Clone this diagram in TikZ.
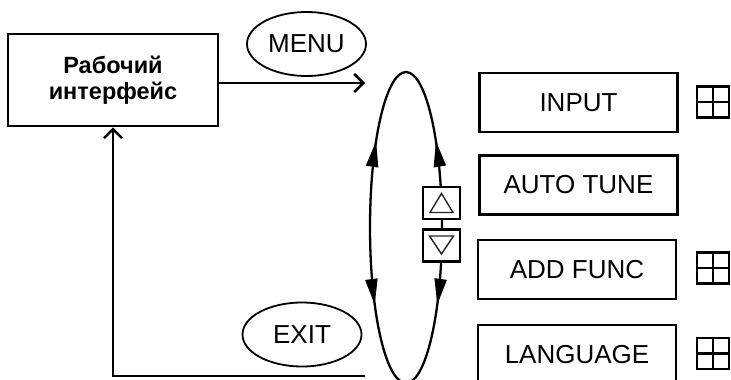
\documentclass[tikz,border=0pt]{standalone}
\usepackage{fontspec}
\setmainfont{Liberation Sans}
\usetikzlibrary{arrows.meta,decorations.markings,shapes.geometric,calc}
\tikzset{
  menubox/.style={draw,line width=2.5pt,minimum width=198pt,minimum height=59pt,inner sep=0pt,font=\fontsize{26}{30}\selectfont},
  oval/.style={draw,line width=1.8pt,ellipse,minimum width=119pt,minimum height=64pt,inner sep=0pt,font=\fontsize{26}{30}\selectfont},
  workbox/.style={draw,line width=2.5pt,minimum width=210pt,minimum height=92pt,inner sep=0pt,align=center,font=\bfseries\fontsize{23.5}{26}\selectfont},
  openarrow/.style={line width=2.5pt,-{Straight Barb[length=9pt,width=18pt,line width=2.5pt]}},
  keybox/.style={draw,fill=white,line width=2.5pt,minimum width=37pt,minimum height=32pt,inner sep=0pt},
  tri/.style={draw=black!85,line width=1.4pt,line join=miter},
  icon/.style={draw,line width=2.8pt,minimum width=32pt,minimum height=31pt,inner sep=0pt,
    path picture={\draw[line width=2.8pt] (path picture bounding box.north) -- (path picture bounding box.south)
      (path picture bounding box.west) -- (path picture bounding box.east);}},
  looparrow/.tip={Triangle[length=26pt,width=12pt]}
}
\begin{document}
\begin{tikzpicture}[x=1pt,y=-1pt]
\useasboundingbox (0,0) rectangle (731,380);
\clip (0,0) rectangle (731,380);

% working interface
\node[workbox] (work) at (113,80) {Рабочий\\интерфейс};
\node[oval] (menu) at (306.5,44) {MENU};
\node[oval] (exit) at (302,334.5) {EXIT};
\coordinate (menuend) at (365,83);
\coordinate (exitend) at (365,376);
\draw[openarrow] (work.east |- menuend) -- (menuend);
\draw[openarrow] (exitend) -| (work.south);

% selection loop
\coordinate (lc) at (406,227.5);
\draw[line width=2.3pt,postaction={decorate},decoration={markings,
   mark=at position 77.5pt with {\arrow{looparrow}},
   mark=at position 253.3pt with {\arrowreversed{looparrow}},
   mark=at position 417.8pt with {\arrow{looparrow}},
   mark=at position -87pt with {\arrowreversed{looparrow}}}]
   (lc) ellipse [x radius=36, y radius=155.5];

\node[keybox] (up) at (441.5,203) {};
\node[keybox] (down) at (441.5,245.5) {};
\draw[tri] ($(up.center)+(0,-9.5)$) -- ($(up.center)+(11.5,9.5)$) -- ($(up.center)+(-11.5,9.5)$) -- cycle;
\draw[tri] ($(down.center)+(0,8.5)$) -- ($(down.center)+(12,-9.5)$) -- ($(down.center)+(-12,-9.5)$) -- cycle;

% menu items
\node[menubox] (input) at (578.5,102.5) {INPUT};
\node[menubox] (tune) at (578.5,185) {AUTO TUNE};
\node[menubox] (func) at (577,269.5) {ADD FUNC};
\node[menubox] (lang) at (577,354.5) {LANGUAGE};

\node[icon] (i1) at (713,102) {};
\node[icon] (i3) at (713,268) {};
\node[icon] (i4) at (713,353.5) {};
\end{tikzpicture}
\end{document}
